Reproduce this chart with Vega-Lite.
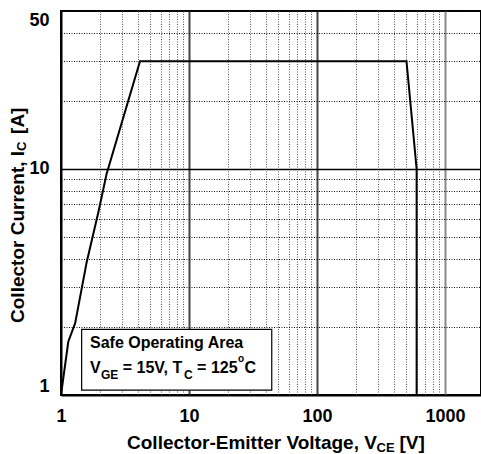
{
  "$schema": "https://vega.github.io/schema/vega-lite/v6.json",
  "autosize": {"type": "none"},
  "padding": {"left": 61, "top": 11, "right": 0, "bottom": 59},
  "width": 420,
  "height": 384,
  "background": "white",
  "config": {
    "view": {"stroke": "black", "strokeWidth": 2},
    "font": "Liberation Sans"
  },
  "datasets": {
    "curve": [
      {"i": 0, "vce": 1, "ic": 1},
      {"i": 1, "vce": 1.14, "ic": 1.72},
      {"i": 2, "vce": 1.29, "ic": 2.08},
      {"i": 3, "vce": 1.59, "ic": 3.89},
      {"i": 4, "vce": 1.95, "ic": 6.37},
      {"i": 5, "vce": 2.27, "ic": 9.5},
      {"i": 6, "vce": 4.14, "ic": 30},
      {"i": 7, "vce": 500, "ic": 30},
      {"i": 8, "vce": 600, "ic": 10},
      {"i": 9, "vce": 600, "ic": 1}
    ],
    "box": [{"x": 1.45, "x2": 44.3, "y": 1.05, "y2": 1.95}],
    "labels": [
      {"g": "leg", "t": "Safe Operating Area", "x": 1.685, "y": 1.698},
      {"g": "leg", "t": "V", "x": 1.685, "y": 1.317},
      {"g": "legsub", "t": "GE", "x": 2.054, "y": 1.226},
      {"g": "leg", "t": "= 15V, T", "x": 3.034, "y": 1.317},
      {"g": "legsub", "t": "C", "x": 9.14, "y": 1.226},
      {"g": "leg", "t": "= 125", "x": 11.57, "y": 1.317},
      {"g": "legsup", "t": "o", "x": 24.15, "y": 1.443},
      {"g": "leg", "t": "C", "x": 27.13, "y": 1.317},
      {"g": "xt", "t": "Collector-Emitter Voltage, V", "x": 3.28, "y": 0.6133},
      {"g": "xtsub", "t": "CE", "x": 292, "y": 0.5829},
      {"g": "xt", "t": "[V]", "x": 440, "y": 0.6133},
      {"g": "yt", "t": "Collector Current, I", "x": 0.4613, "y": 2.083},
      {"g": "ytsub", "t": "C", "x": 0.4957, "y": 12.02},
      {"g": "yt", "t": "[A]", "x": 0.4613, "y": 14.29}
    ]
  },
  "layer": [
    {
      "data": {"name": "curve"},
      "mark": {"type": "line", "color": "black", "strokeWidth": 2, "clip": true},
      "encoding": {
        "x": {
          "field": "vce", "type": "quantitative",
          "scale": {"type": "log", "domain": [1, 1910], "nice": false},
          "axis": {
            "title": null,
            "values": [1, 2, 3, 4, 5, 6, 7, 8, 9, 10, 20, 30, 40, 50, 60, 70, 80, 90, 100, 200, 300, 400, 500, 600, 700, 800, 900, 1000],
            "ticks": false,
            "domainColor": "black",
            "domainWidth": 2,
            "labelFont": "Liberation Sans",
            "labelFontWeight": "bold",
            "labelFontSize": 18,
            "labelColor": "black",
            "labelPadding": 12,
            "labelFlush": false,
            "labelOverlap": false,
            "labelExpr": "(datum.value == 1 || datum.value == 10 || datum.value == 100 || datum.value == 1000) ? format(datum.value, 'd') : ''",
            "grid": true,
            "gridOpacity": 1,
            "gridColor": {"condition": [{"test": "datum.value == 1000", "value": "#8a8a8a"}, {"test": "datum.value == 10 || datum.value == 100", "value": "#444444"}], "value": "#555555"},
            "gridDash": {"condition": {"test": "datum.value == 10 || datum.value == 100 || datum.value == 1000", "value": []}, "value": [1, 1.5]},
            "gridWidth": {"condition": {"test": "datum.value == 10 || datum.value == 100 || datum.value == 1000", "value": 2}, "value": 1}
          }
        },
        "y": {
          "field": "ic", "type": "quantitative",
          "scale": {"type": "log", "domain": [1, 50], "nice": false},
          "axis": {
            "title": null,
            "values": [1, 2, 3, 4, 5, 6, 7, 8, 9, 10, 20, 30, 40, 50],
            "ticks": false,
            "domainColor": "black",
            "domainWidth": 2,
            "labelFont": "Liberation Sans",
            "labelFontWeight": "bold",
            "labelFontSize": 18,
            "labelColor": "black",
            "labelPadding": 12,
            "labelFlush": true,
            "labelOverlap": false,
            "labelExpr": "(datum.value == 1 || datum.value == 10 || datum.value == 50) ? format(datum.value, 'd') : ''",
            "grid": true,
            "gridOpacity": 1,
            "gridColor": {"condition": {"test": "datum.value == 10", "value": "black"}, "value": "#111111"},
            "gridDash": {"condition": {"test": "datum.value == 10", "value": []}, "value": [1, 1.5]},
            "gridWidth": {"condition": {"test": "datum.value == 10", "value": 1.5}, "value": 1}
          }
        },
        "order": {"field": "i", "type": "quantitative"}
      }
    },
    {
      "data": {"name": "box"},
      "mark": {"type": "rect", "fill": "white", "stroke": "black", "strokeWidth": 1.2},
      "encoding": {
        "x": {"field": "x", "type": "quantitative"},
        "x2": {"field": "x2"},
        "y": {"field": "y", "type": "quantitative"},
        "y2": {"field": "y2"}
      }
    },
    {
      "data": {"name": "labels"},
      "transform": [{"filter": "datum.g == 'leg'"}],
      "mark": {"type": "text", "align": "left", "baseline": "middle", "font": "Liberation Sans", "fontWeight": "bold", "fontSize": 16, "color": "black"},
      "encoding": {"x": {"field": "x", "type": "quantitative"}, "y": {"field": "y", "type": "quantitative"}, "text": {"field": "t"}}
    },
    {
      "data": {"name": "labels"},
      "transform": [{"filter": "datum.g == 'legsub'"}],
      "mark": {"type": "text", "align": "left", "baseline": "middle", "font": "Liberation Sans", "fontWeight": "bold", "fontSize": 12, "color": "black"},
      "encoding": {"x": {"field": "x", "type": "quantitative"}, "y": {"field": "y", "type": "quantitative"}, "text": {"field": "t"}}
    },
    {
      "data": {"name": "labels"},
      "transform": [{"filter": "datum.g == 'legsup'"}],
      "mark": {"type": "text", "align": "left", "baseline": "middle", "font": "Liberation Sans", "fontWeight": "bold", "fontSize": 10, "color": "black"},
      "encoding": {"x": {"field": "x", "type": "quantitative"}, "y": {"field": "y", "type": "quantitative"}, "text": {"field": "t"}}
    },
    {
      "data": {"name": "labels"},
      "transform": [{"filter": "datum.g == 'xt'"}],
      "mark": {"type": "text", "align": "left", "baseline": "middle", "font": "Liberation Sans", "fontWeight": "bold", "fontSize": 19, "color": "black"},
      "encoding": {"x": {"field": "x", "type": "quantitative"}, "y": {"field": "y", "type": "quantitative"}, "text": {"field": "t"}}
    },
    {
      "data": {"name": "labels"},
      "transform": [{"filter": "datum.g == 'xtsub'"}],
      "mark": {"type": "text", "align": "left", "baseline": "middle", "font": "Liberation Sans", "fontWeight": "bold", "fontSize": 13, "color": "black"},
      "encoding": {"x": {"field": "x", "type": "quantitative"}, "y": {"field": "y", "type": "quantitative"}, "text": {"field": "t"}}
    },
    {
      "data": {"name": "labels"},
      "transform": [{"filter": "datum.g == 'yt'"}],
      "mark": {"type": "text", "align": "left", "baseline": "middle", "angle": 270, "font": "Liberation Sans", "fontWeight": "bold", "fontSize": 19, "color": "black"},
      "encoding": {"x": {"field": "x", "type": "quantitative"}, "y": {"field": "y", "type": "quantitative"}, "text": {"field": "t"}}
    },
    {
      "data": {"name": "labels"},
      "transform": [{"filter": "datum.g == 'ytsub'"}],
      "mark": {"type": "text", "align": "left", "baseline": "middle", "angle": 270, "font": "Liberation Sans", "fontWeight": "bold", "fontSize": 13, "color": "black"},
      "encoding": {"x": {"field": "x", "type": "quantitative"}, "y": {"field": "y", "type": "quantitative"}, "text": {"field": "t"}}
    }
  ]
}
